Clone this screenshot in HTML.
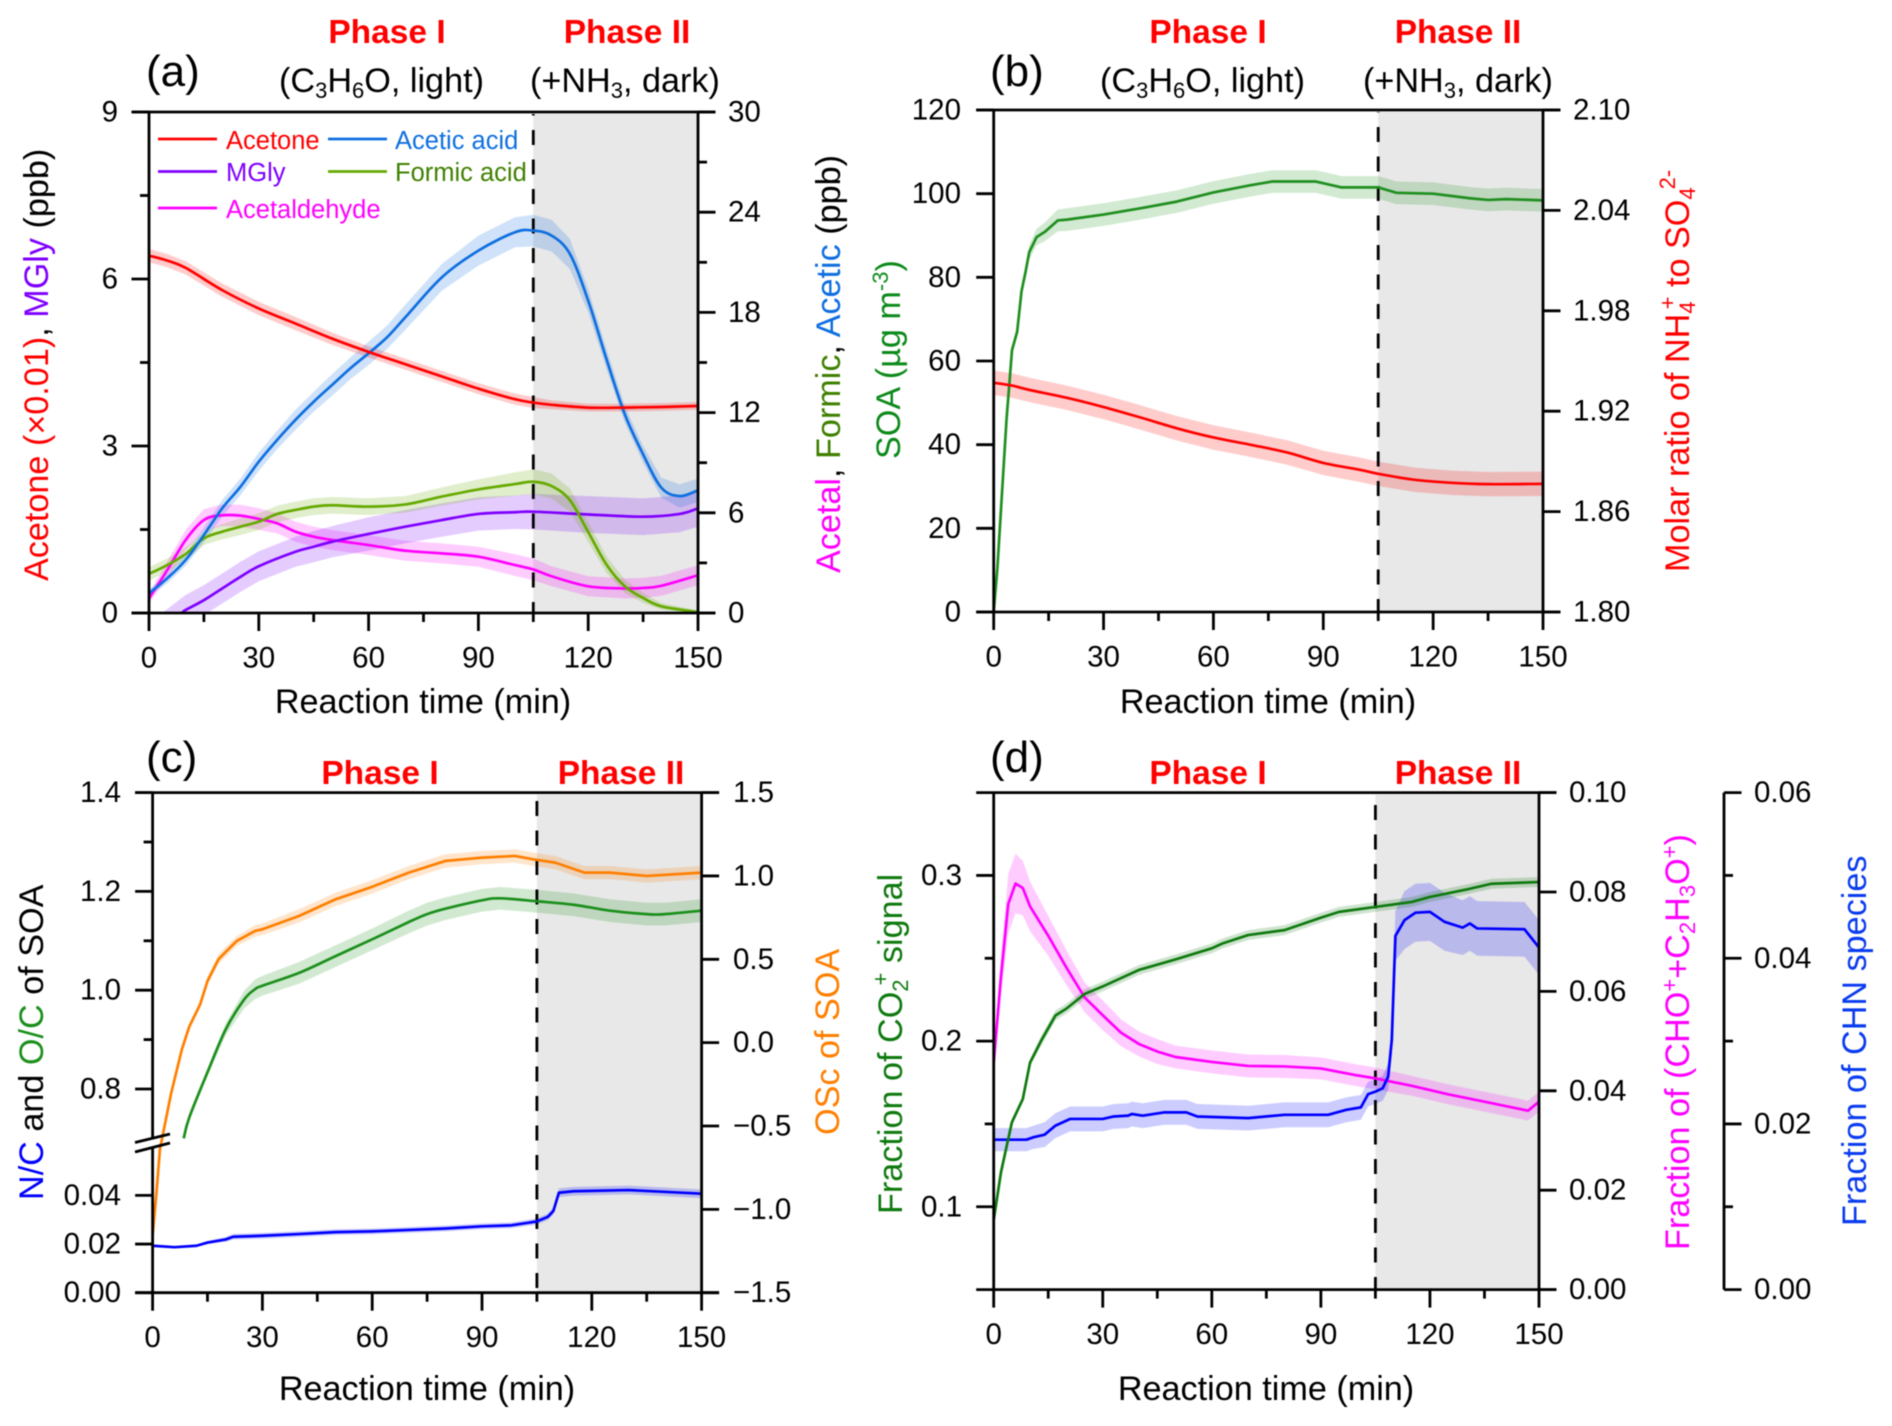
<!DOCTYPE html>
<html lang="en">
<head>
<meta charset="utf-8">
<title>Reaction time panels</title>
<style>
html,body{margin:0;padding:0;background:#fff;width:1892px;height:1426px;overflow:hidden}
svg{display:block;filter:blur(.4px)}
text{font-family:"Liberation Sans",sans-serif;fill:#000}
.lab{font-size:34.2px}
.tick{font-size:29.5px}
.ph{font-size:33.5px;font-weight:bold;fill:#f00;text-anchor:middle}
.pan{font-size:44px}
.leg{font-size:25.5px}
</style>
</head>
<body>
<svg id="chart" xmlns="http://www.w3.org/2000/svg" width="1892" height="1426" viewBox="0 0 1892 1426">
<rect width="1892" height="1426" fill="#fff"/>
<g id="plots"></g>

<g>
<text class="pan" x="146" y="86">(a)</text>
<text class="ph" x="387" y="43">Phase I</text>
<text class="ph" x="627" y="43">Phase II</text>
<text class="lab" x="279" y="92">(C<tspan font-size="22" dy="6">3</tspan><tspan dy="-6">H</tspan><tspan font-size="22" dy="6">6</tspan><tspan dy="-6">O, light)</tspan></text>
<text class="lab" x="530" y="92">(+NH<tspan font-size="22" dy="6">3</tspan><tspan dy="-6">, dark)</tspan></text>
<text class="lab" x="423" y="713" text-anchor="middle">Reaction time (min)</text>
<text class="lab" transform="translate(48,581) rotate(-90)"><tspan style="fill:#f00">Acetone (×0.01)</tspan>, <tspan style="fill:#7f00ff">MGly</tspan> (ppb)</text>
<text class="lab" transform="translate(840,573) rotate(-90)"><tspan style="fill:#f0f">Acetal</tspan>, <tspan style="fill:#3f8000">Formic</tspan>, <tspan style="fill:#0f6fe0">Acetic</tspan> (ppb)</text>
<text class="leg" x="226" y="149" style="fill:#f00">Acetone</text>
<text class="leg" x="395" y="149" style="fill:#0f6fe0">Acetic acid</text>
<text class="leg" x="226" y="181" style="fill:#7f00ff">MGly</text>
<text class="leg" x="395" y="181" style="fill:#3f8000">Formic acid</text>
<text class="leg" x="226" y="218" style="fill:#f0f">Acetaldehyde</text>
</g>

<g>
<text class="pan" x="990" y="86">(b)</text>
<text class="ph" x="1208" y="43">Phase I</text>
<text class="ph" x="1458" y="43">Phase II</text>
<text class="lab" x="1100" y="92">(C<tspan font-size="22" dy="6">3</tspan><tspan dy="-6">H</tspan><tspan font-size="22" dy="6">6</tspan><tspan dy="-6">O, light)</tspan></text>
<text class="lab" x="1363" y="92">(+NH<tspan font-size="22" dy="6">3</tspan><tspan dy="-6">, dark)</tspan></text>
<text class="lab" x="1268" y="713" text-anchor="middle">Reaction time (min)</text>
<text class="lab" transform="translate(900,459) rotate(-90)" style="fill:#0c8a1a">SOA (µg m<tspan font-size="22" dy="-12">-3</tspan><tspan dy="12">)</tspan></text>
<text class="lab" transform="translate(1689,572) rotate(-90)" style="fill:#f00">Molar ratio of NH<tspan font-size="22" dy="6">4</tspan><tspan font-size="22" dx="-8" dy="-20">+</tspan><tspan dy="14"> to SO</tspan><tspan font-size="22" dy="6">4</tspan><tspan font-size="22" dx="-2" dy="-20">2-</tspan></text>
</g>

<g>
<text class="pan" x="146" y="772">(c)</text>
<text class="ph" x="380" y="784">Phase I</text>
<text class="ph" x="621" y="784">Phase II</text>
<text class="lab" x="427" y="1400" text-anchor="middle">Reaction time (min)</text>
<text class="lab" transform="translate(43,1200) rotate(-90)"><tspan style="fill:#00f">N/C</tspan> and <tspan style="fill:#1b8f1b">O/C</tspan> of SOA</text>
<text class="lab" transform="translate(839,1135) rotate(-90)" style="fill:#ff7f00">OSc of SOA</text>
</g>

<g>
<text class="pan" x="990" y="772">(d)</text>
<text class="ph" x="1208" y="784">Phase I</text>
<text class="ph" x="1458" y="784">Phase II</text>
<text class="lab" x="1266" y="1400" text-anchor="middle">Reaction time (min)</text>
<text class="lab" transform="translate(902,1214) rotate(-90)" style="fill:#0f7a0f">Fraction of CO<tspan font-size="22" dy="6">2</tspan><tspan font-size="22" dx="-6" dy="-20">+</tspan><tspan dy="14"> signal</tspan></text>
<text class="lab" transform="translate(1689,1250) rotate(-90)" style="fill:#f0f">Fraction of (CHO<tspan font-size="22" dy="-12">+</tspan><tspan dy="12">+C</tspan><tspan font-size="22" dy="6">2</tspan><tspan dy="-6">H</tspan><tspan font-size="22" dy="6">3</tspan><tspan dy="-6">O</tspan><tspan font-size="22" dy="-12">+</tspan><tspan dy="12">)</tspan></text>
<text class="lab" transform="translate(1866,1226) rotate(-90)" style="fill:#0a3cf0">Fraction of CHN species</text>
</g>
</svg>

<script>
/* ---------- shared axis data ---------- */
const xTickLabels = ['0','30','60','90','120','150'];
const xMinorTicks = [15,45,75,105,135];
const phaseBoundary = 105;

/* ---------- panel (a) ---------- */
const aLeftTicks = ['0','3','6','9'];
const aLeftMinor = [1.5,4.5,7.5];
const aRightTicks = ['0','6','12','18','24','30'];
const aRightMinor = [3,9,15,21,27];
const acetoneT = [0,5,10,20,30,40,50,60,70,80,90,100,105,110,120,130,140,150];
const acetone  = [6.42,6.33,6.2,5.8,5.47,5.2,4.93,4.69,4.47,4.25,4.03,3.84,3.78,3.74,3.69,3.69,3.7,3.72];
const acetoneBand = [.12,.12,.12,.12,.12,.12,.11,.1,.1,.1,.1,.1,.1,.08,.07,.07,.07,.07];
const aceticT = [0,5,10,15,20,25,30,35,40,45,50,55,60,65,70,80,90,100,105,110,115,120,125,130,135,140,145,150];
const acetic  = [1.18,2.08,3.17,4.67,6.27,7.56,9.06,10.36,11.56,12.65,13.65,14.65,15.55,16.5,17.7,20.1,21.7,22.8,22.9,22.6,21.5,18.7,15.2,11.9,9.5,7.5,7,7.35];
const aceticBand = [.2,.3,.35,.45,.5,.5,.55,.55,.6,.6,.65,.65,.7,.7,.75,.8,.9,.9,.95,.95,.9,.7,.6,.5,.5,.6,.7,.7];
const formicT = [0,5,10,15,20,25,30,35,40,45,50,60,70,80,90,100,105,110,115,120,125,130,135,140,150];
const formic  = [2.34,2.87,3.53,4.47,4.87,5.17,5.47,5.93,6.17,6.37,6.45,6.37,6.5,6.97,7.4,7.72,7.86,7.6,6.76,4.85,2.9,1.6,.9,.4,.05];
const formicBand = [.4,.4,.4,.4,.45,.5,.5,.5,.5,.5,.5,.5,.5,.55,.6,.7,.75,.75,.7,.6,.5,.4,.3,.2,.1];
const acetalT = [0,5,10,15,20,25,30,35,40,45,50,60,70,80,90,100,105,110,120,130,135,140,150];
const acetal  = [.88,2.57,4.37,5.57,5.85,5.83,5.63,5.37,4.87,4.57,4.37,4.07,3.73,3.57,3.37,2.87,2.61,2.2,1.6,1.47,1.5,1.63,2.26];
const acetalBand = [.3,.5,.6,.65,.65,.65,.65,.6,.6,.6,.6,.6,.6,.6,.6,.65,.65,.6,.6,.6,.6,.6,.6];
const mglyT = [3,8.9,10,15,20,25,30,40,45,50,60,70,80,90,100,105,120,135,145,150];
const mgly  = [-.3,0,.054,.23,.44,.65,.84,1.1,1.19,1.28,1.42,1.55,1.67,1.78,1.81,1.82,1.77,1.73,1.78,1.88];
const mglyBand = [.27,.27,.27,.27,.27,.27,.27,.27,.28,.28,.3,.3,.3,.3,.3,.32,.33,.33,.33,.33];

/* ---------- panel (b) ---------- */
const bLeftTicks = ['0','20','40','60','80','100','120'];
const bRightTicks = ['1.80','1.86','1.92','1.98','2.04','2.10'];
const soaT = [0,1,3.5,5,6.4,7.6,8.7,9.7,11.7,14,17.5,20,30,40,50,60,70,76,88,95,105,110,120,130,135,140,150];
const soa  = [0,10.4,46,62.6,67,76.7,81.3,86,89.6,90.9,93.6,93.8,95,96.5,98.1,100.3,102,102.9,102.9,101.5,101.5,100.2,100,98.9,98.5,98.7,98.4];
const soaBand = [0,.3,.6,1,1.2,1.4,1.6,1.8,2,2.2,2.6,2.7,2.7,2.7,2.7,2.7,2.7,2.7,2.7,2.7,2.7,2.7,2.7,2.7,2.7,2.7,2.7];
const ratioT = [0,5,10,20,30,40,50,60,70,80,90,100,105,115,125,135,150];
const ratio  = [1.937,1.9353,1.9326,1.928,1.9225,1.9163,1.9098,1.9043,1.9,1.8954,1.8891,1.885,1.8826,1.879,1.8772,1.8764,1.8766];
const ratioBand = [.0073,.0073,.0073,.0073,.0073,.0073,.0073,.0073,.0073,.0073,.0073,.0073,.0073,.0073,.0073,.0073,.0073];

/* ---------- panel (c) ---------- */
const cUpperTicks = ['0.8','1.0','1.2','1.4'];
const cUpperMinor = [.9,1.1,1.3];
const cLowerTicks = ['0.00','0.02','0.04'];
const cRightTicks = ['\u22121.5','\u22121.0','\u22120.5','0.0','0.5','1.0','1.5'];
const ocT = [8.5,10,15,20,25,28,30,40,50,60,70,75,80,90,95,105,115,125,135,140,150];
const oc  = [.7,.742,.834,.921,.981,1.002,1.009,1.035,1.069,1.103,1.138,1.154,1.165,1.182,1.186,1.18,1.173,1.161,1.154,1.154,1.161];
const ocBand = [.002,.004,.008,.012,.018,.02,.02,.022,.022,.022,.023,.023,.023,.023,.023,.023,.023,.023,.023,.023,.023];
const oscT = [0,1,2,3,5,8,10,13,15,18,20,23,28,30,40,50,60,70,80,90,99,104,110,118,125,135,150];
const osc  = [-1.16,-.914,-.64,-.53,-.31,-.04,.095,.23,.37,.5,.545,.61,.67,.68,.76,.86,.935,1.02,1.09,1.11,1.12,1.1,1.08,1.02,1.02,1,1.02];
const oscBand = [.01,.01,.01,.015,.015,.02,.02,.02,.025,.03,.03,.03,.035,.035,.04,.04,.04,.04,.04,.04,.04,.04,.04,.04,.04,.04,.04];
const ncT = [0,6,12,15,20,22,30,40,50,60,70,80,90,98,105,108,109.5,111,115,130,150];
const nc  = [.0193,.0187,.0193,.0206,.0219,.023,.0234,.0241,.0249,.0252,.0258,.0264,.0273,.0277,.0293,.0312,.0336,.0411,.0417,.0422,.0407];
const ncBand = [.0003,.0003,.0004,.0007,.001,.0012,.0012,.0012,.0012,.0012,.0012,.0012,.0012,.0012,.0013,.0013,.0014,.0018,.0018,.0018,.0018];

/* ---------- panel (d) ---------- */
const dLeftTicks = ['0.1','0.2','0.3'];
const dLeftMinor = [.15,.25];
const dRightTicks = ['0.00','0.02','0.04','0.06','0.08','0.10'];
const dOuterTicks = ['0.00','0.02','0.04','0.06'];
const dOuterMinor = [.01,.03,.05];
const co2T = [0,2,5,8,10,13,17,20,25,30,40,50,60,63,70,80,90,95,105,115,120,130,137,150];
const co2  = [.092,.1208,.151,.165,.187,.2,.2155,.2196,.2284,.233,.243,.2493,.256,.259,.264,.267,.2745,.278,.281,.284,.287,.2915,.295,.296];
const co2Band = [0,.001,.002,.002,.002,.003,.003,.003,.003,.003,.003,.003,.003,.003,.003,.003,.003,.003,.003,.003,.003,.003,.003,.003];
const choT = [0,2,4,6,8,10,15,20,25,30,35,40,45,50,60,70,80,90,100,105,115,125,135,147,150];
const cho  = [.0456,.063,.0776,.0817,.0808,.0771,.0712,.0648,.0588,.0552,.0517,.0494,.0479,.0468,.0458,.045,.0449,.0445,.0431,.0425,.041,.0393,.0378,.036,.0378];
const choBand = [.001,.004,.006,.006,.0055,.005,.004,.0035,.003,.003,.0027,.0025,.0025,.0023,.0023,.0023,.0023,.0022,.0022,.0022,.002,.002,.002,.002,.002];
const chnT = [0,9,11,14,17,21,24,30,33,37,38,41,47,53,56,70,80,92,97,101,103,105,107,108.5,109.5,110.5,113,116,120,124,129,131,133,146,150];
const chn  = [.0181,.0181,.0184,.0187,.0198,.0206,.0206,.0206,.0209,.021,.0212,.021,.0214,.0214,.0209,.0207,.0211,.0211,.0217,.022,.0236,.0239,.0243,.0257,.0301,.0427,.0446,.0455,.0456,.0444,.0437,.0442,.0436,.0435,.0413];
const chnBand = [.0014,.0014,.0014,.0015,.0015,.0015,.0015,.0015,.0015,.0015,.0015,.0015,.0015,.0015,.0015,.0015,.0015,.0015,.0015,.0015,.0015,.0015,.0015,.0016,.002,.003,.0035,.0035,.0035,.0035,.0033,.0033,.0033,.0033,.0033];

/* ---------- drawing helpers ---------- */
const NS = 'http://www.w3.org/2000/svg';
const root = document.getElementById('plots');

function mk(tag, attrs, parent, name) {
  const el = document.createElementNS(NS, tag);
  for (const k in attrs) el.setAttribute(k, attrs[k]);
  
  
  parent.appendChild(el);
  return el;
}
function linear(d0, d1, r0, r1) {
  return function (v) { return r0 + (v - d0) / (d1 - d0) * (r1 - r0); };
}
function smoothPath(pts) {
  let d = 'M' + pts[0][0].toFixed(2) + ' ' + pts[0][1].toFixed(2);
  for (let i = 0; i < pts.length - 1; i++) {
    const a = pts[Math.max(i - 1, 0)], b = pts[i], c = pts[i + 1], e = pts[Math.min(i + 2, pts.length - 1)];
    d += 'C' + (b[0] + (c[0] - a[0]) / 6).toFixed(2) + ' ' + (b[1] + (c[1] - a[1]) / 6).toFixed(2) + ' ' +
         (c[0] - (e[0] - b[0]) / 6).toFixed(2) + ' ' + (c[1] - (e[1] - b[1]) / 6).toFixed(2) + ' ' +
         c[0].toFixed(2) + ' ' + c[1].toFixed(2);
  }
  return d;
}
function linePath(pts) {
  return 'M' + pts.map(function (p) { return p[0].toFixed(2) + ' ' + p[1].toFixed(2); }).join('L');
}
function panelFrame(id, x0, x1, yt, yb, dashShift) {
  const g = mk('g', {}, root, 'panel-' + id);
  const xS = linear(0, 150, x0, x1);
  const clipId = 'clip-' + id;
  const defs = mk('clipPath', { id: clipId }, g, 'panel-' + id + '-clip');
  mk('rect', { x: x0 - 1, y: yt, width: x1 - x0 + 2, height: yb - yt + 1 }, defs, 'panel-' + id + '-clip-rect');
  mk('rect', { x: xS(phaseBoundary), y: yt + 2, width: x1 - xS(phaseBoundary), height: yb - yt - 2, fill: '#e8e8e8' }, g, 'panel-' + id + '-phase-2-shading');
  const bands = mk('g', { 'clip-path': 'url(#' + clipId + ')' }, g, 'panel-' + id + '-bands');
  mk('line', { x1: xS(phaseBoundary), x2: xS(phaseBoundary), y1: yt + 2, y2: yb, stroke: '#000', 'stroke-width': 2.8, 'stroke-dasharray': '15 14.5', 'stroke-dashoffset': -dashShift }, g, 'panel-' + id + '-phase-boundary');
  const lines = mk('g', { 'clip-path': 'url(#' + clipId + ')', fill: 'none' }, g, 'panel-' + id + '-lines');
  const axes = mk('g', { stroke: '#000', 'stroke-width': 2.8 }, g, 'panel-' + id + '-axes');
  const labels = mk('g', {}, g, 'panel-' + id + '-tick-labels');
  return { id: id, x0: x0, x1: x1, yt: yt, yb: yb, xS: xS, bands: bands, lines: lines, axes: axes, labels: labels };
}
function series(p, name, t, v, band, color, yS, smooth) {
  const pts = t.map(function (tv, i) { return [p.xS(tv), yS(v[i])]; });
  const up = t.map(function (tv, i) { return [p.xS(tv), yS(v[i] + band[i])]; });
  const dn = t.map(function (tv, i) { return [p.xS(tv), yS(v[i] - band[i])]; }).reverse();
  mk('path', { d: linePath(up.concat(dn)) + 'Z', fill: color, 'fill-opacity': .2 }, p.bands, name + '-band');
  mk('path', { d: smooth ? smoothPath(pts) : linePath(pts), stroke: color, 'stroke-width': 2.7, 'stroke-linejoin': 'round' }, p.lines, name + '-line');
}
function xAxis(p) {
  xTickLabels.forEach(function (lab) {
    const v = parseFloat(lab), x = p.xS(v);
    mk('line', { x1: x, x2: x, y1: p.yb, y2: p.yb + 18 }, p.axes, 'panel-' + p.id + '-x-tick-' + lab);
    const t = mk('text', { class: 'tick', x: x, y: p.yb + 54.5, 'text-anchor': 'middle' }, p.labels, 'panel-' + p.id + '-x-tick-label-' + lab);
    t.textContent = lab;
  });
  xMinorTicks.forEach(function (v) {
    const x = p.xS(v);
    mk('line', { x1: x, x2: x, y1: p.yb, y2: p.yb + 9 }, p.axes, 'panel-' + p.id + '-x-minor-tick-' + v);
  });
}
function spine(p, x, y0, y1, name) {
  mk('line', { x1: x, x2: x, y1: y0, y2: y1 }, p.axes, 'panel-' + p.id + '-' + name);
}
function frameLines(p) {
  mk('line', { x1: p.x0 - 17.5, x2: p.x1 + 17.5, y1: p.yt, y2: p.yt }, p.axes, 'panel-' + p.id + '-top-axis');
  mk('line', { x1: p.x0 - 17.5, x2: p.x1 + 17.5, y1: p.yb, y2: p.yb }, p.axes, 'panel-' + p.id + '-bottom-axis');
}
function yTicks(p, side, x, labels, minor, yS, labelX, anchor, name) {
  const dir = side === 'left' ? -1 : 1;
  labels.forEach(function (lab) {
    const v = parseFloat(lab.replace('\u2212', '-')), y = yS(v);
    mk('line', { x1: x, x2: x + dir * 17.5, y1: y, y2: y }, p.axes, 'panel-' + p.id + '-' + name + '-tick-' + lab);
    const t = mk('text', { class: 'tick', x: labelX, y: y + 9.5, 'text-anchor': anchor }, p.labels, 'panel-' + p.id + '-' + name + '-tick-label-' + lab);
    t.textContent = lab;
  });
  minor.forEach(function (v) {
    const y = yS(v);
    mk('line', { x1: x, x2: x + dir * 9, y1: y, y2: y }, p.axes, 'panel-' + p.id + '-' + name + '-minor-tick-' + v);
  });
}

/* ---------- panel (a) ---------- */
(function () {
  const p = panelFrame('a', 149, 698, 112, 613, 16);
  const yL = linear(0, 9, p.yb, p.yt), yR = linear(0, 30, p.yb, p.yt);
  series(p, 'acetaldehyde', acetalT, acetal, acetalBand, '#ff00ff', yR, true);
  series(p, 'mgly', mglyT, mgly, mglyBand, '#7f00ff', yL, true);
  series(p, 'formic-acid', formicT, formic, formicBand, '#66aa00', yR, true);
  series(p, 'acetic-acid', aceticT, acetic, aceticBand, '#0f6fe0', yR, true);
  series(p, 'acetone', acetoneT, acetone, acetoneBand, '#ff0000', yL, true);
  frameLines(p); xAxis(p);
  spine(p, p.x0, p.yt, p.yb, 'left-axis');
  spine(p, p.x1, p.yt, p.yb, 'right-axis');
  yTicks(p, 'left', p.x0, aLeftTicks, aLeftMinor, yL, 118, 'end', 'left');
  yTicks(p, 'right', p.x1, aRightTicks, aRightMinor, yR, 728, 'start', 'right');
  const legend = mk('g', { 'stroke-width': 2.7 }, root, 'legend');
  mk('line', { x1: 158, x2: 217, y1: 139, y2: 139, stroke: '#ff0000' }, legend, 'legend-line-acetone');
  mk('line', { x1: 328, x2: 387, y1: 139, y2: 139, stroke: '#0f6fe0' }, legend, 'legend-line-acetic-acid');
  mk('line', { x1: 158, x2: 217, y1: 171.5, y2: 171.5, stroke: '#7f00ff' }, legend, 'legend-line-mgly');
  mk('line', { x1: 328, x2: 387, y1: 171.5, y2: 171.5, stroke: '#66aa00' }, legend, 'legend-line-formic-acid');
  mk('line', { x1: 158, x2: 217, y1: 208, y2: 208, stroke: '#ff00ff' }, legend, 'legend-line-acetaldehyde');
})();

/* ---------- panel (b) ---------- */
(function () {
  const p = panelFrame('b', 993.7, 1543, 110, 612, 15);
  const yL = linear(0, 120, p.yb, p.yt), yR = linear(1.8, 2.1, p.yb, p.yt);
  series(p, 'soa', soaT, soa, soaBand, '#1e8f1e', yL, false);
  series(p, 'molar-ratio', ratioT, ratio, ratioBand, '#ff0000', yR, true);
  frameLines(p); xAxis(p);
  spine(p, p.x0, p.yt, p.yb, 'left-axis');
  spine(p, p.x1, p.yt, p.yb, 'right-axis');
  yTicks(p, 'left', p.x0, bLeftTicks, [], yL, 961, 'end', 'left');
  yTicks(p, 'right', p.x1, bRightTicks, [], yR, 1573, 'start', 'right');
})();

/* ---------- panel (c) ---------- */
(function () {
  const p = panelFrame('c', 152.6, 701.6, 792.6, 1292.7, 6.4);
  const yU = linear(1.4, .8, 792.6, 1089), yN = linear(0, .04, 1292.7, 1195.4), yR = linear(-1.5, 1.5, p.yb, p.yt);
  series(p, 'osc', oscT, osc, oscBand, '#ff7f00', yR, false);
  series(p, 'oc', ocT, oc, ocBand, '#1b8f1b', yU, true);
  series(p, 'nc', ncT, nc, ncBand, '#0000ff', yN, false);
  frameLines(p); xAxis(p);
  spine(p, p.x0, p.yt, 1137, 'left-axis-upper');
  spine(p, p.x0, 1148, p.yb, 'left-axis-lower');
  spine(p, p.x1, p.yt, p.yb, 'right-axis');
  yTicks(p, 'left', p.x0, cUpperTicks, cUpperMinor, yU, 121, 'end', 'left-upper');
  yTicks(p, 'left', p.x0, cLowerTicks, [], yN, 121, 'end', 'left-lower');
  yTicks(p, 'right', p.x1, cRightTicks, [], yR, 733, 'start', 'right');
  mk('line', { x1: 135, x2: 170, y1: 1142.5, y2: 1134 }, p.axes, 'panel-c-axis-break-upper');
  mk('line', { x1: 135, x2: 170, y1: 1152, y2: 1143 }, p.axes, 'panel-c-axis-break-lower');
})();

/* ---------- panel (d) ---------- */
(function () {
  const p = panelFrame('d', 993.7, 1539, 792.6, 1289.6, 10.4);
  const yL = linear(.05, .35, p.yb, p.yt), yR = linear(0, .1, p.yb, p.yt), yO = linear(0, .06, p.yb, p.yt);
  series(p, 'cho-fraction', choT, cho, choBand, '#ff00ff', yR, false);
  series(p, 'chn-fraction', chnT, chn, chnBand, '#0000ff', yO, false);
  series(p, 'co2-fraction', co2T, co2, co2Band, '#0f7a0f', yL, false);
  frameLines(p); xAxis(p);
  spine(p, p.x0, p.yt, p.yb, 'left-axis');
  spine(p, p.x1, p.yt, p.yb, 'right-axis');
  spine(p, 1724, p.yt, p.yb, 'outer-axis');
  yTicks(p, 'left', p.x0, dLeftTicks, dLeftMinor, yL, 962, 'end', 'left');
  yTicks(p, 'right', p.x1, dRightTicks, [], yR, 1569, 'start', 'right');
  yTicks(p, 'right', 1724, dOuterTicks, dOuterMinor, yO, 1754, 'start', 'outer');
})();
</script>
</body>
</html>
